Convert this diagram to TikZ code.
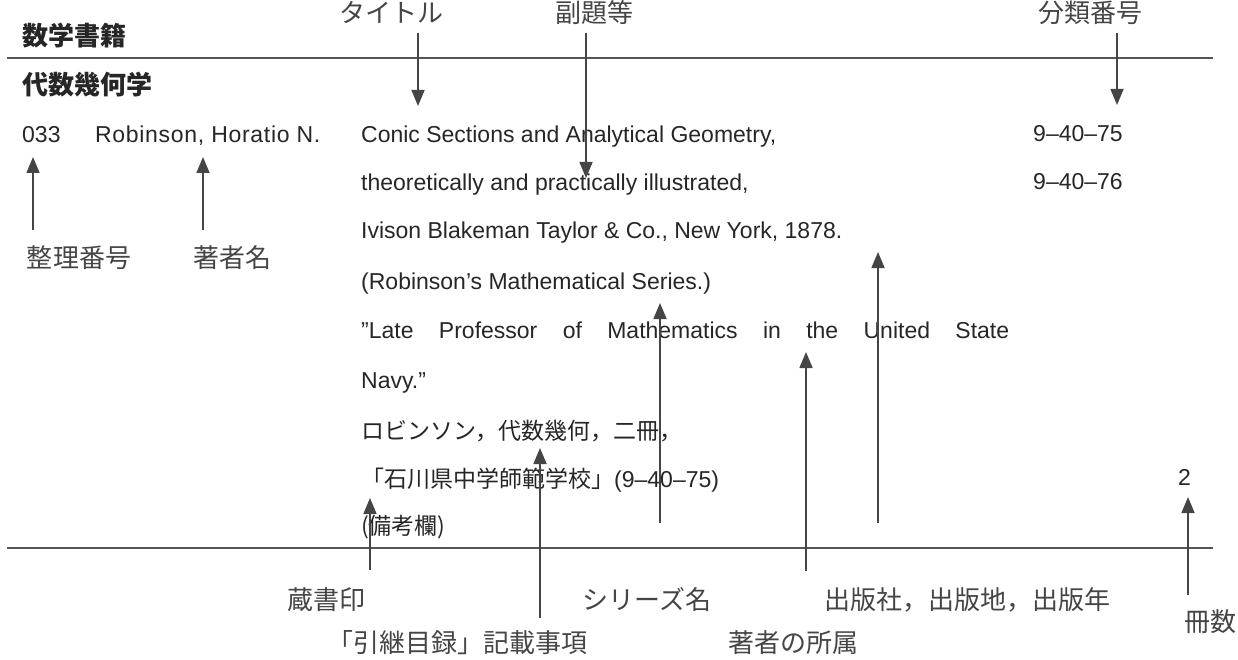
\documentclass[tikz,border=0pt]{standalone}
\usepackage{fontspec}
\setmainfont{Liberation Sans}
\newfontfamily\jp{Noto Sans CJK JP}
\usetikzlibrary{arrows.meta}
\definecolor{ink}{HTML}{262626}
\definecolor{labc}{HTML}{454545}
\definecolor{rulec}{HTML}{555555}
\begin{document}
\begin{tikzpicture}[x=1pt,y=-1pt,
  body/.style={anchor=base west, inner sep=0pt, text=ink, font=\fontsize{23}{23}\selectfont},
  jbody/.style={anchor=base west, inner sep=0pt, text=ink, font=\fontsize{23}{23}\selectfont\jp},
  head/.style={anchor=base west, inner sep=0pt, text=black!85, font=\fontsize{26}{26}\selectfont\jp\bfseries},
  lab/.style={anchor=base, inner sep=0pt, text=labc, font=\fontsize{26}{26}\selectfont\jp},
  arr/.style={-{Triangle[width=13pt,length=16pt]}, line width=1.6pt, draw=labc},
  rulel/.style={line width=1.4pt, draw=rulec}]
\useasboundingbox (0,0) rectangle (1238,660);

% rules
\coordinate (tl) at (7,58);   \coordinate (tr) at (1213,58);
\coordinate (bl) at (7,548);  \coordinate (br) at (1213,548);
\draw[rulel] (tl) -- (tr);
\draw[rulel] (bl) -- (br);

% headings
\node[head] (cat) at (22,46) {数学書籍};
\node[head] (subj) at (22,95) {代数幾何学};

% record
\node[body] (num) at (22,143) {033};
\node[body] (auth) at (95,143) {\addfontfeatures{LetterSpace=3}Robinson, Horatio N.};
\node[body] (t1) at (361,143) {Conic Sections and Analytical Geometry,};
\node[body] (t2) at (361,191) {theoretically and practically illustrated,};
\node[body] (t3) at (361,239) {Ivison Blakeman Taylor \& Co., New York, 1878.};
\node[body] (t4) at (361,289) {(Robinson’s Mathematical Series.)};
\node[body] (t5) at (361,338) {\makebox[648pt][s]{”Late Professor of Mathematics in the United State}};
\node[body] (t6) at (361,388) {Navy.”};
\node[jbody] (t7) at (361,439) {ロビンソン，代数幾何，二冊，};
\node[jbody] (t8) at (361,487) {「石川県中学師範学校」{\normalfont(9–40–75)}};
\node[jbody] (t9) at (361,534) {(備考欄)};
\node[body] (c1) at (1033,142) {9–40–75};
\node[body] (c2) at (1033,190) {9–40–76};
\node[body] (vol) at (1178,485) {2};

% labels
\node[lab] (Ltitle) at (391,23) {タイトル};
\node[lab] (Lsub) at (594,23) {副題等};
\node[lab] (Lcls) at (1090,23) {分類番号};
\node[lab] (Lid) at (79,267) {整理番号};
\node[lab] (Lauth) at (232,267) {著者名};
\node[lab] (Lstamp) at (326,609) {蔵書印};
\node[lab] (Lold) at (457,652) {「引継目録」記載事項};
\node[lab] (Lser) at (647,609) {シリーズ名};
\node[lab] (Lpub) at (967,609) {出版社，出版地，出版年};
\node[lab] (Laff) at (793,652) {著者の所属};
\node[lab] (Lvol) at (1210,631) {冊数};

% arrow ends
\coordinate (aTs) at (418,33);  \coordinate (aTe) at (418,106);
\coordinate (aSs) at (586,33);  \coordinate (aSe) at (586,178);
\coordinate (aCs) at (1117,33); \coordinate (aCe) at (1117,105);
\coordinate (aIs) at (33,230);  \coordinate (aIe) at (33,157);
\coordinate (aAs) at (203,230); \coordinate (aAe) at (203,157);
\coordinate (aBs) at (370,570); \coordinate (aBe) at (370,498);
\coordinate (aOs) at (540,618); \coordinate (aOe) at (540,448);
\coordinate (aRs) at (660,523); \coordinate (aRe) at (660,303);
\coordinate (aFs) at (806,571); \coordinate (aFe) at (806,352);
\coordinate (aPs) at (878,523); \coordinate (aPe) at (878,252);
\coordinate (aVs) at (1188,595);\coordinate (aVe) at (1188,497);

\draw[arr] (aTs) -- (aTe);
\draw[arr] (aSs) -- (aSe);
\draw[arr] (aCs) -- (aCe);
\draw[arr] (aIs) -- (aIe);
\draw[arr] (aAs) -- (aAe);
\draw[arr] (aBs) -- (aBe);
\draw[arr] (aOs) -- (aOe);
\draw[arr] (aRs) -- (aRe);
\draw[arr] (aFs) -- (aFe);
\draw[arr] (aPs) -- (aPe);
\draw[arr] (aVs) -- (aVe);
\end{tikzpicture}
\end{document}
